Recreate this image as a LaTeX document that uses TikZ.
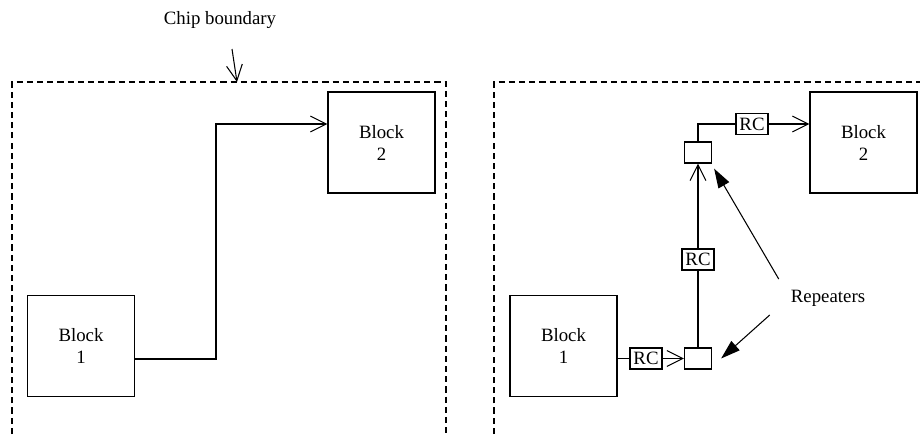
\documentclass[tikz,border=0pt]{standalone}
\usepackage{fontspec}
\setmainfont{Liberation Serif}
\usetikzlibrary{arrows.meta,positioning,calc}

\begin{document}
\begin{tikzpicture}[
    x=0.02cm, y=-0.02cm,
    every node/.style={font=\fontsize{10.7}{12.5}\selectfont},
    block/.style={draw, line width=0.7pt, minimum width=2.14cm, minimum height=2.02cm, align=center},
    repbox/.style={draw, line width=0.7pt, minimum width=0.54cm, minimum height=0.42cm, inner sep=0pt},
    rcbox/.style={draw, line width=0.7pt, minimum width=0.64cm, minimum height=0.42cm, inner sep=0pt},
    boundary/.style={line width=1pt, dash pattern=on 3.5pt off 2.3pt},
    wire/.style={line width=0.6pt},
    arrow/.style={wire, -{Straight Barb[length=9pt,width=9pt]}},
    pointer/.style={line width=0.6pt, -{Triangle[length=11pt,width=7pt]}}
]
\useasboundingbox (0,0) rectangle (920,434);

% Chip boundaries
\draw[boundary] (12,434) -- (12,82) -- (446,82) -- (446,434);
\draw[boundary] (494,434) -- (494,82) -- (920,82);

% Label for the boundary
\node (chip) at (220,20) {Chip boundary};
\coordinate (chipfrom) at (232,49);
\coordinate (chiptip) at (237,82);
\draw[arrow] (chipfrom) -- (chiptip);

% Left: plain wire
\node[block] (b1L) at (81,346) {Block\\1};
\node[block] (b2L) at (381.5,142.5) {Block\\2};
\coordinate (bendL) at (216,124);
\draw[arrow] ([yshift=-0.26cm]b1L.east) -| (bendL) -- (b2L.west |- bendL);

% Right: wire with repeaters
\node[block] (b1R) at (563.5,346) {Block\\1};
\node[block] (b2R) at (863.5,142.5) {Block\\2};
\node[repbox] (rep1) at (698,358.5) {};
\node[repbox] (rep2) at (698,152.5) {};
\node[rcbox] (rc1) at (646,358.5) {RC};
\node[rcbox] (rc2) at (698,259.5) {RC};
\node[rcbox] (rc3) at (752,124) {RC};

\draw[wire] (b1R.east |- rc1) -- (rc1.west);
\draw[arrow] (rc1.east) -- (rep1.west);
\draw[wire] (rep1.north) -- (rc2.south);
\draw[arrow] (rc2.north) -- (rep2.south);
\draw[wire] (rep2.north) |- (rc3.west);
\draw[arrow] (rc3.east) -- (b2R.west |- rc3);

% Repeaters annotation
\node (rep) at (828,298) {Repeaters};
\draw[pointer] ([shift={(-6,-19)}]rep.west) -- ([shift={(2,5)}]rep2.south east);
\draw[pointer] ([shift={(-15,17)}]rep.west) -- ([shift={(9,0)}]rep1.east);

\end{tikzpicture}
\end{document}
